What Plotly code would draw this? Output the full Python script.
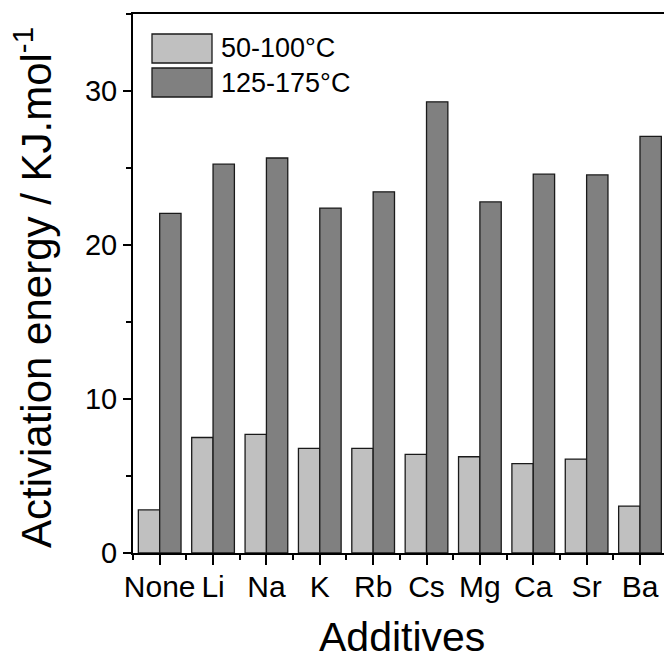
import plotly.graph_objects as go

categories = ["None", "Li", "Na", "K", "Rb", "Cs", "Mg", "Ca", "Sr", "Ba"]
low_temp = [2.8, 7.5, 7.7, 6.8, 6.8, 6.4, 6.25, 5.8, 6.1, 3.05]
high_temp = [22.05, 25.25, 25.65, 22.4, 23.45, 29.3, 22.8, 24.6, 24.55, 27.05]
series_names = ["50-100°C", "125-175°C"]
series_colors = ["#C0C0C0", "#808080"]
y_ticks = [0, 10, 20, 30]

W, H = 664, 659
ML, MR, MT, MB = 133, 0, 14, 106
FONT = "Liberation Sans, Arial, sans-serif"

x_idx = list(range(len(categories)))

fig = go.Figure()
for vals, name, col in zip([low_temp, high_temp], series_names, series_colors):
    fig.add_trace(go.Bar(
        x=x_idx, y=vals, name=name,
        marker=dict(color=col, line=dict(color="#1a1a1a", width=1.3)),
        showlegend=False,
    ))

pw = W - ML - MR
ph = H - MT - MB

def px_x(px):
    return (px - ML) / pw

def px_y(py):
    return (H - MB - py) / ph

shapes = []
annotations = []
# legend boxes
leg_boxes = [(34, 63), (68, 97)]
for (y0, y1), name, col in zip(leg_boxes, series_names, series_colors):
    shapes.append(dict(type="rect", xref="paper", yref="paper",
                       x0=px_x(152), x1=px_x(212), y0=px_y(y1), y1=px_y(y0),
                       fillcolor=col, line=dict(color="#1a1a1a", width=1.3)))
    annotations.append(dict(text=name, xref="paper", yref="paper",
                            x=px_x(219), y=px_y((y0 + y1) / 2),
                            xanchor="left", yanchor="middle", showarrow=False,
                            font=dict(family=FONT, size=27, color="black")))

annotations.append(dict(text="Additives", xref="paper", yref="paper",
                        x=px_x(402), y=px_y(637), xanchor="center", yanchor="middle",
                        showarrow=False, font=dict(family=FONT, size=41, color="black")))
annotations.append(dict(text="Activiation energy / KJ.mol<sup>-1</sup>", xref="paper", yref="paper",
                        x=px_x(33), y=px_y(288), xanchor="center", yanchor="middle",
                        textangle=-90, showarrow=False,
                        font=dict(family=FONT, size=42, color="black")))

fig.update_layout(
    width=W, height=H,
    margin=dict(l=ML, r=MR, t=MT, b=MB, pad=0),
    paper_bgcolor="white", plot_bgcolor="white",
    barmode="group", bargap=0.2, bargroupgap=0.0,
    showlegend=False,
    font=dict(family=FONT, color="black"),
    shapes=shapes, annotations=annotations,
)
fig.update_xaxes(
    range=[-0.5, 9.45],
    tickmode="array", tickvals=x_idx, ticktext=categories,
    ticks="outside", ticklen=10, tickwidth=2, tickcolor="black",
    minor=dict(tickmode="array", tickvals=[i - 0.5 for i in range(len(categories) + 1)],
               ticks="outside", ticklen=5, tickwidth=2, tickcolor="black"),
    showline=True, linecolor="black", linewidth=2, mirror=True,
    showgrid=False, zeroline=False,
    ticklabelstandoff=-4,
    tickfont=dict(family=FONT, size=30, color="black"),
)
fig.update_yaxes(
    range=[0, 35],
    tickmode="array", tickvals=y_ticks,
    ticks="outside", ticklen=8, tickwidth=2, tickcolor="black",
    minor=dict(dtick=5, tick0=0, ticks="outside", ticklen=5, tickwidth=2, tickcolor="black"),
    showline=True, linecolor="black", linewidth=2, mirror=False,
    showgrid=False, zeroline=False,
    tickfont=dict(family=FONT, size=29, color="black"),
)

fig.write_html("out.html")
